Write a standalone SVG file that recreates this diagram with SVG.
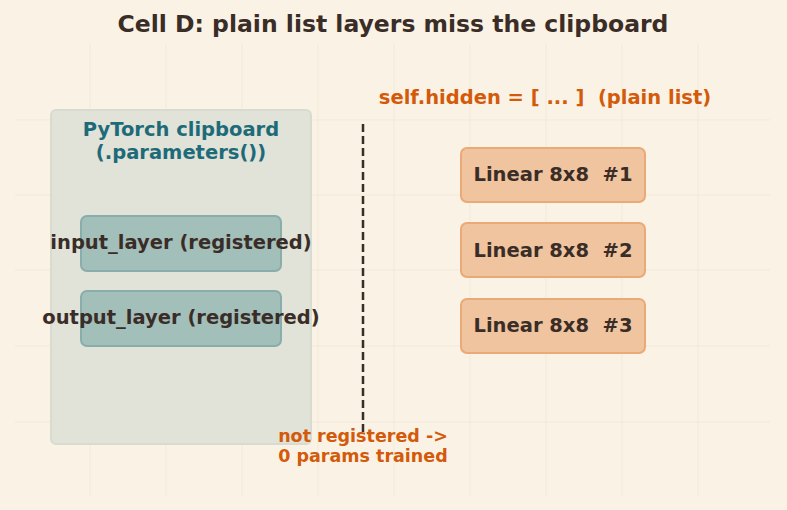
<svg xmlns="http://www.w3.org/2000/svg" width="787" height="510" viewBox="0 0 787 510">
<style>
.grid line{stroke:#f2e9d9;stroke-width:1}
.t{font-family:"DejaVu Sans",sans-serif;font-weight:bold;text-anchor:middle}
.teal rect{fill:#a3bfb9;stroke:#89adaa;stroke-width:2}
.lin rect{fill:#f0c49e;stroke:#eaa977;stroke-width:2}
.dark{fill:#3a2d28}
.or{fill:#d35a0a}
</style>
<rect width="787" height="510" fill="#faf2e4"/>
<g class="grid">
<line x1="90" y1="44" x2="90" y2="496"/><line x1="166" y1="44" x2="166" y2="496"/><line x1="242" y1="44" x2="242" y2="496"/><line x1="318" y1="44" x2="318" y2="496"/><line x1="394" y1="44" x2="394" y2="496"/><line x1="470" y1="44" x2="470" y2="496"/><line x1="546" y1="44" x2="546" y2="496"/><line x1="622" y1="44" x2="622" y2="496"/><line x1="698" y1="44" x2="698" y2="496"/>
<line x1="15" y1="120" x2="770" y2="120"/><line x1="15" y1="195" x2="770" y2="195"/><line x1="15" y1="270" x2="770" y2="270"/><line x1="15" y1="346" x2="770" y2="346"/><line x1="15" y1="422" x2="770" y2="422"/>
</g>
<text class="t dark" x="393" y="32" font-size="23.5">Cell D: plain list layers miss the clipboard</text>
<g id="clipboard">
<rect x="51" y="110" width="260" height="334" rx="5" fill="#e1e2d8" stroke="#d8dbd0" stroke-width="2"/>
<text class="t" x="181" y="136" font-size="19.5" fill="#1d6b78">PyTorch clipboard</text>
<text class="t" x="181" y="159" font-size="19.5" fill="#1d6b78">(.parameters())</text>
</g>
<g id="input_layer" class="teal">
<rect x="81" y="216" width="200" height="55" rx="6"/>
<text class="t dark" x="181" y="249" font-size="19.5">input_layer (registered)</text>
</g>
<g id="output_layer" class="teal">
<rect x="81" y="291" width="200" height="55" rx="6"/>
<text class="t dark" x="181" y="324" font-size="19.5">output_layer (registered)</text>
</g>
<text class="t or" x="545" y="104" font-size="19.5" xml:space="preserve">self.hidden = [ ... ]  (plain list)</text>
<g id="linear1" class="lin">
<rect x="461" y="148" width="184" height="54" rx="6"/>
<text class="t dark" x="553" y="181" font-size="19.5" xml:space="preserve">Linear 8x8  #1</text>
</g>
<g id="linear2" class="lin">
<rect x="461" y="223" width="184" height="54" rx="6"/>
<text class="t dark" x="553" y="257" font-size="19.5" xml:space="preserve">Linear 8x8  #2</text>
</g>
<g id="linear3" class="lin">
<rect x="461" y="299" width="184" height="54" rx="6"/>
<text class="t dark" x="553" y="332" font-size="19.5" xml:space="preserve">Linear 8x8  #3</text>
</g>
<g id="connectors">
<line x1="363" y1="124" x2="363" y2="432" stroke="#3a2d28" stroke-width="2.5" stroke-dasharray="8,4"/>
</g>
<g id="note">
<text class="t or" x="363" y="442" font-size="17.5">not registered -&gt;</text>
<text class="t or" x="363" y="462" font-size="17.5">0 params trained</text>
</g>
</svg>
